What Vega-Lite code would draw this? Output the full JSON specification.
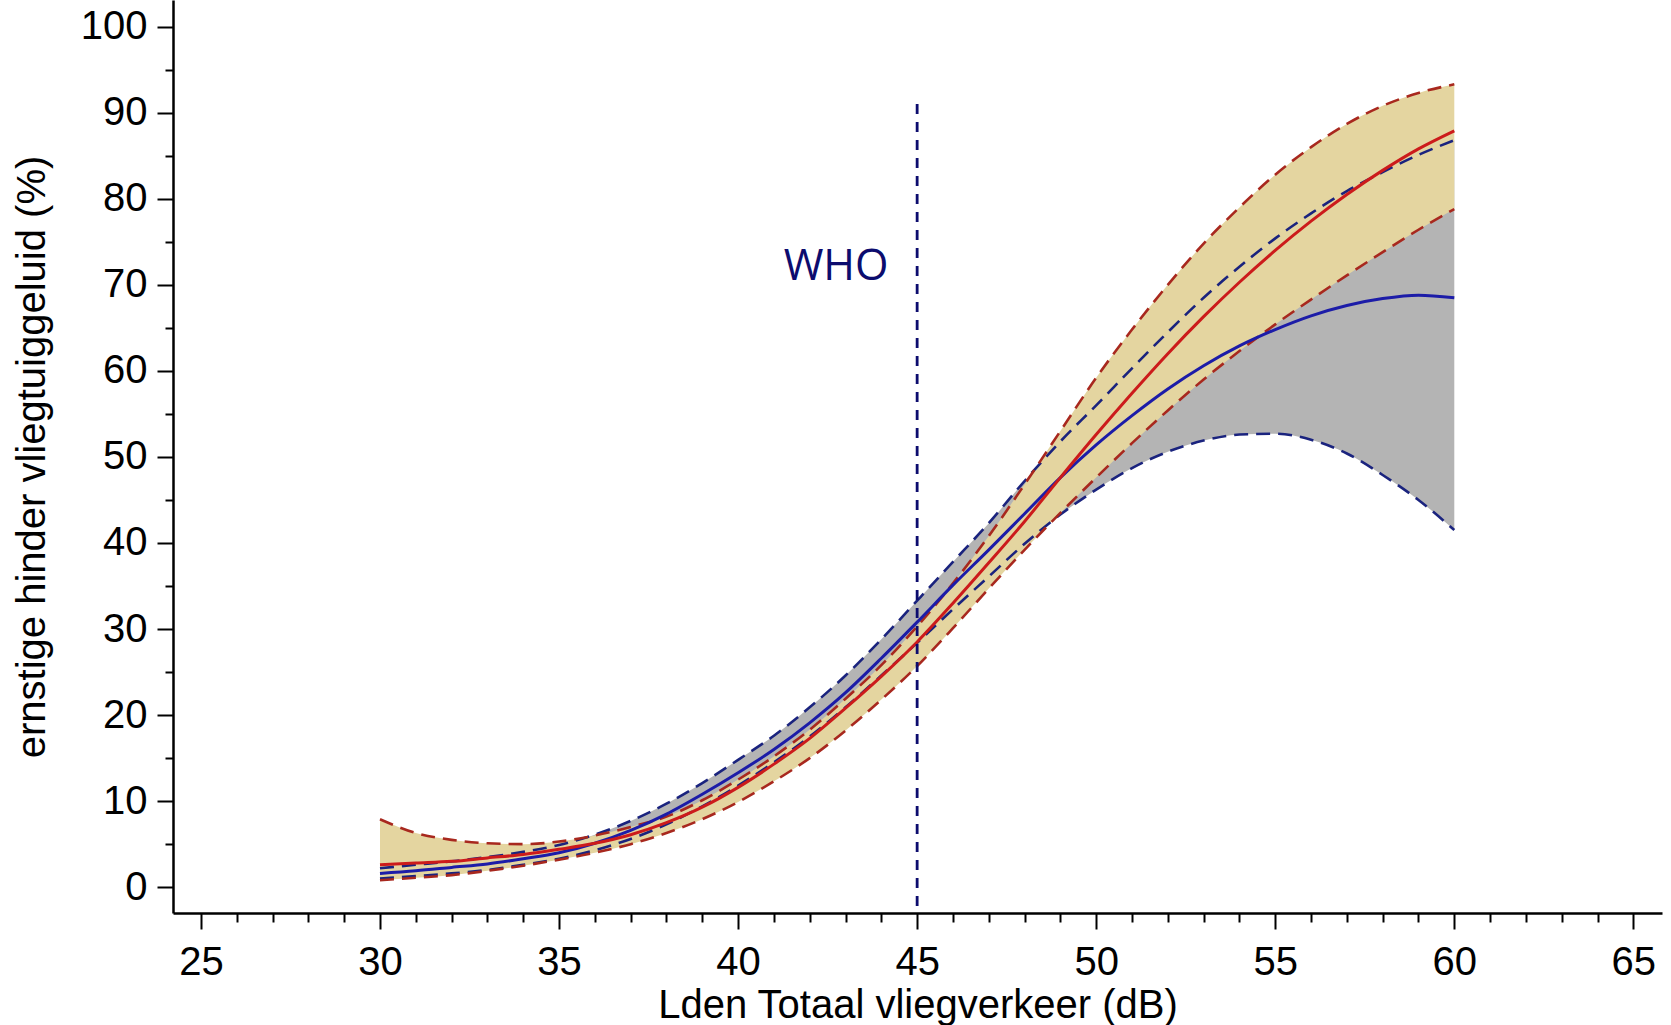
{
  "$schema": "https://vega.github.io/schema/vega-lite/v6.json",
  "width": 1489,
  "height": 913,
  "autosize": {"type": "none"},
  "padding": {"left": 173, "top": 0, "right": 9, "bottom": 112},
  "background": "white",
  "config": {
    "view": {"stroke": null},
    "axis": {
      "domainColor": "black", "domainWidth": 2.5, "tickColor": "black", "tickWidth": 2,
      "labelFont": "Liberation Sans", "labelFontSize": 40, "labelColor": "black",
      "titleFont": "Liberation Sans", "titleFontSize": 40, "titleFontWeight": "normal", "titleColor": "black",
      "grid": false, "labelOverlap": false, "labelFlush": false
    }
  },
  "datasets": {
    "curves": [
      {"x": 30, "rs": 2.6, "ru": 7.9, "rl": 0.8, "bs": 1.6, "bu": 2.2, "bl": 1.0},
      {"x": 31, "rs": 2.8, "ru": 6.3, "rl": 1.1, "bs": 1.9, "bu": 2.6, "bl": 1.3},
      {"x": 32, "rs": 3.0, "ru": 5.5, "rl": 1.4, "bs": 2.3, "bu": 3.0, "bl": 1.6},
      {"x": 33, "rs": 3.4, "ru": 5.1, "rl": 1.9, "bs": 2.7, "bu": 3.5, "bl": 2.0},
      {"x": 34, "rs": 3.8, "ru": 5.0, "rl": 2.5, "bs": 3.3, "bu": 4.1, "bl": 2.6},
      {"x": 35, "rs": 4.4, "ru": 5.3, "rl": 3.2, "bs": 4.0, "bu": 4.9, "bl": 3.3},
      {"x": 36, "rs": 5.1, "ru": 6.0, "rl": 4.0, "bs": 5.1, "bu": 6.1, "bl": 4.3},
      {"x": 37, "rs": 6.1, "ru": 7.0, "rl": 5.0, "bs": 6.6, "bu": 7.7, "bl": 5.6},
      {"x": 38, "rs": 7.5, "ru": 8.2, "rl": 6.3, "bs": 8.5, "bu": 9.7, "bl": 7.3},
      {"x": 39, "rs": 9.3, "ru": 10.1, "rl": 7.9, "bs": 10.8, "bu": 12.1, "bl": 9.4},
      {"x": 40, "rs": 11.6, "ru": 12.5, "rl": 9.9, "bs": 13.3, "bu": 14.8, "bl": 11.8},
      {"x": 41, "rs": 14.3, "ru": 15.2, "rl": 12.3, "bs": 16.0, "bu": 17.6, "bl": 14.5},
      {"x": 42, "rs": 17.3, "ru": 18.3, "rl": 15.0, "bs": 19.1, "bu": 20.9, "bl": 17.5},
      {"x": 43, "rs": 20.8, "ru": 21.9, "rl": 18.2, "bs": 22.6, "bu": 24.6, "bl": 20.9},
      {"x": 44, "rs": 24.5, "ru": 25.8, "rl": 21.8, "bs": 26.6, "bu": 28.8, "bl": 24.6},
      {"x": 45, "rs": 28.5, "ru": 30.3, "rl": 25.7, "bs": 30.8, "bu": 33.3, "bl": 28.4},
      {"x": 46, "rs": 33.0, "ru": 35.3, "rl": 30.1, "bs": 35.1, "bu": 37.8, "bl": 32.3},
      {"x": 47, "rs": 37.7, "ru": 40.8, "rl": 34.7, "bs": 39.2, "bu": 42.3, "bl": 36.1},
      {"x": 48, "rs": 42.5, "ru": 46.8, "rl": 39.2, "bs": 43.4, "bu": 47.2, "bl": 39.9},
      {"x": 49, "rs": 47.6, "ru": 53.0, "rl": 43.5, "bs": 47.6, "bu": 51.8, "bl": 43.3},
      {"x": 50, "rs": 52.6, "ru": 59.2, "rl": 47.6, "bs": 51.4, "bu": 56.0, "bl": 46.2},
      {"x": 51, "rs": 57.4, "ru": 64.8, "rl": 51.6, "bs": 54.8, "bu": 60.3, "bl": 48.7},
      {"x": 52, "rs": 62.0, "ru": 70.0, "rl": 55.4, "bs": 57.9, "bu": 64.5, "bl": 50.6},
      {"x": 53, "rs": 66.3, "ru": 74.8, "rl": 59.0, "bs": 60.6, "bu": 68.5, "bl": 51.9},
      {"x": 54, "rs": 70.3, "ru": 79.0, "rl": 62.3, "bs": 62.9, "bu": 72.1, "bl": 52.6},
      {"x": 55, "rs": 74.0, "ru": 82.8, "rl": 65.4, "bs": 64.8, "bu": 75.4, "bl": 52.7},
      {"x": 56, "rs": 77.4, "ru": 86.0, "rl": 68.3, "bs": 66.4, "bu": 78.3, "bl": 52.0},
      {"x": 57, "rs": 80.5, "ru": 88.7, "rl": 71.1, "bs": 67.6, "bu": 80.9, "bl": 50.4},
      {"x": 58, "rs": 83.3, "ru": 90.8, "rl": 73.8, "bs": 68.4, "bu": 83.1, "bl": 47.9},
      {"x": 59, "rs": 85.8, "ru": 92.3, "rl": 76.4, "bs": 68.8, "bu": 85.1, "bl": 45.0},
      {"x": 60, "rs": 87.9, "ru": 93.3, "rl": 78.8, "bs": 68.5, "bu": 86.8, "bl": 41.5}
    ],
    "who": [{"x": 45, "ytop": 91, "ybottom": -3, "label": "WHO", "lx": 44.2, "ly": 70.6}]
  },
  "layer": [
    {
      "data": {"name": "curves"},
      "mark": {"type": "area", "color": "#B4B4B4", "opacity": 1, "interpolate": "monotone"},
      "encoding": {
        "x": {
          "field": "x", "type": "quantitative",
          "scale": {"domain": [24.22, 65.8], "nice": false, "zero": false},
          "axis": {
            "values": [25,26,27,28,29,30,31,32,33,34,35,36,37,38,39,40,41,42,43,44,45,46,47,48,49,50,51,52,53,54,55,56,57,58,59,60,61,62,63,64,65],
            "tickCount": 100,
            "format": "d",
            "labelExpr": "datum.value % 5 === 0 ? datum.label : ''",
            "labelOverlap": false,
            "labelBound": false,
            "tickSize": {"condition": {"test": "datum.value % 5 === 0", "value": 16}, "value": 9},
            "labelPadding": 13,
            "title": "Lden Totaal vliegverkeer (dB)",
            "titlePadding": 3
          }
        },
        "y": {
          "field": "bl", "type": "quantitative",
          "scale": {"domain": [-3, 103.1], "nice": false, "zero": false},
          "axis": {
            "values": [0,5,10,15,20,25,30,35,40,45,50,55,60,65,70,75,80,85,90,95,100],
            "tickCount": 100,
            "format": "d",
            "labelExpr": "datum.value % 10 === 0 ? datum.label : ''",
            "labelOverlap": false,
            "tickSize": {"condition": {"test": "datum.value % 10 === 0", "value": 16}, "value": 8},
            "labelPadding": 10,
            "title": "ernstige hinder vliegtuiggeluid (%)",
            "titlePadding": 28
          }
        },
        "y2": {"field": "bu"}
      }
    },
    {
      "data": {"name": "curves"},
      "mark": {"type": "area", "color": "#E4D5A0", "opacity": 1, "interpolate": "monotone"},
      "encoding": {
        "x": {"field": "x", "type": "quantitative"},
        "y": {"field": "rl", "type": "quantitative"},
        "y2": {"field": "ru"}
      }
    },
    {
      "data": {"name": "curves"},
      "mark": {"type": "line", "color": "#1A237E", "strokeWidth": 2.6, "strokeDash": [14, 8], "interpolate": "monotone"},
      "encoding": {"x": {"field": "x", "type": "quantitative"}, "y": {"field": "bu", "type": "quantitative"}}
    },
    {
      "data": {"name": "curves"},
      "mark": {"type": "line", "color": "#1A237E", "strokeWidth": 2.6, "strokeDash": [14, 8], "interpolate": "monotone"},
      "encoding": {"x": {"field": "x", "type": "quantitative"}, "y": {"field": "bl", "type": "quantitative"}}
    },
    {
      "data": {"name": "curves"},
      "mark": {"type": "line", "color": "#A8281E", "strokeWidth": 2.6, "strokeDash": [14, 8], "interpolate": "monotone"},
      "encoding": {"x": {"field": "x", "type": "quantitative"}, "y": {"field": "ru", "type": "quantitative"}}
    },
    {
      "data": {"name": "curves"},
      "mark": {"type": "line", "color": "#A8281E", "strokeWidth": 2.6, "strokeDash": [14, 8], "interpolate": "monotone"},
      "encoding": {"x": {"field": "x", "type": "quantitative"}, "y": {"field": "rl", "type": "quantitative"}}
    },
    {
      "data": {"name": "curves"},
      "mark": {"type": "line", "color": "#1C1CA8", "strokeWidth": 3, "interpolate": "monotone"},
      "encoding": {"x": {"field": "x", "type": "quantitative"}, "y": {"field": "bs", "type": "quantitative"}}
    },
    {
      "data": {"name": "curves"},
      "mark": {"type": "line", "color": "#CC1B1B", "strokeWidth": 3, "interpolate": "monotone"},
      "encoding": {"x": {"field": "x", "type": "quantitative"}, "y": {"field": "rs", "type": "quantitative"}}
    },
    {
      "data": {"name": "who"},
      "mark": {"type": "rule", "color": "#0C0C6E", "strokeWidth": 2.8, "strokeDash": [10, 8]},
      "encoding": {
        "x": {"field": "x", "type": "quantitative"},
        "y": {"field": "ytop", "type": "quantitative"},
        "y2": {"field": "ybottom"}
      }
    },
    {
      "data": {"name": "who"},
      "mark": {"type": "text", "font": "Open Sans", "fontSize": 43, "color": "#0C0C6E", "align": "right", "baseline": "alphabetic"},
      "encoding": {
        "x": {"field": "lx", "type": "quantitative"},
        "y": {"field": "ly", "type": "quantitative"},
        "text": {"field": "label"}
      }
    }
  ]
}
